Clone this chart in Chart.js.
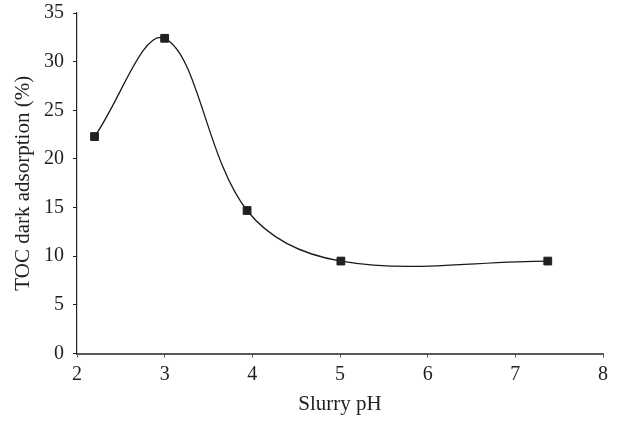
<!DOCTYPE html>
<html>
<head>
<meta charset="utf-8">
<script src="https://cdn.jsdelivr.net/npm/chart.js@4/dist/chart.umd.min.js"></script>
<style>
  body { margin: 0; background: #fff; }
  #wrap { width: 617px; height: 421px; }
</style>
</head>
<body>
<div id="wrap"><canvas id="chart" width="617" height="421"></canvas></div>
<script>
// values
const slurryPH = [2.2, 3.0, 3.94, 5.01, 7.37];
const tocDarkAdsorption = [22.3, 32.4, 14.7, 9.5, 9.5];
const xTicks = [2, 3, 4, 5, 6, 7, 8];
const yTicks = [0, 5, 10, 15, 20, 25, 30, 35];

const ink = '#231f20';
const serif = 'Liberation Serif';

new Chart(
    document.getElementById('chart'),
    {
        type: 'scatter',
        data: {
            datasets: [
                {
                    label: 'TOC dark adsorption',
                    data: slurryPH.map((x, i) => ({x: x, y: tocDarkAdsorption[i]})),
                    showLine: true,
                    tension: 0.36,
                    borderColor: '#1a1a1a',
                    borderWidth: 1.3,
                    pointStyle: 'rect',
                    pointRadius: 5.5,
                    pointBackgroundColor: ink,
                    pointBorderColor: ink,
                    pointBorderWidth: 1,
                    clip: false,
                }
            ]
        },
        options: {
            responsive: false,
            animation: false,
            layout: { padding: { top: 13, right: 14, left: 0, bottom: 0 } },
            plugins: { legend: { display: false }, tooltip: { enabled: false } },
            scales: {
                x: {
                    type: 'linear',
                    min: xTicks[0],
                    max: xTicks[xTicks.length - 1],
                    afterBuildTicks: s => { s.ticks = xTicks.map(v => ({value: v})); },
                    afterFit: s => { s.height = 67.5; s.paddingRight = 0; s.paddingLeft = 0; },
                    ticks: { color: ink, font: { family: serif, size: 20 }, padding: 5 },
                    grid: { drawOnChartArea: false, drawTicks: true, tickLength: 4, color: '#555' },
                    border: { display: true, color: '#595959', width: 2 },
                    title: {
                        display: true,
                        text: 'Slurry pH',
                        color: ink,
                        font: { family: serif, size: 21 },
                        padding: { top: 0, bottom: 4 }
                    }
                },
                y: {
                    type: 'linear',
                    min: yTicks[0],
                    max: yTicks[yTicks.length - 1],
                    afterBuildTicks: s => { s.ticks = yTicks.map(v => ({value: v})); },
                    afterFit: s => { s.width = 77; s.paddingTop = 0; s.paddingBottom = 0; },
                    ticks: { color: ink, font: { family: serif, size: 20 }, padding: 9 },
                    grid: { drawOnChartArea: false, drawTicks: true, tickLength: 4, color: '#222' },
                    border: { display: true, color: '#222', width: 1.2 },
                    title: {
                        display: true,
                        text: 'TOC dark adsorption (%)',
                        color: ink,
                        font: { family: serif, size: 21 },
                        padding: { top: 11, bottom: 0 }
                    }
                }
            }
        }
    }
);
</script>
</body>
</html>
